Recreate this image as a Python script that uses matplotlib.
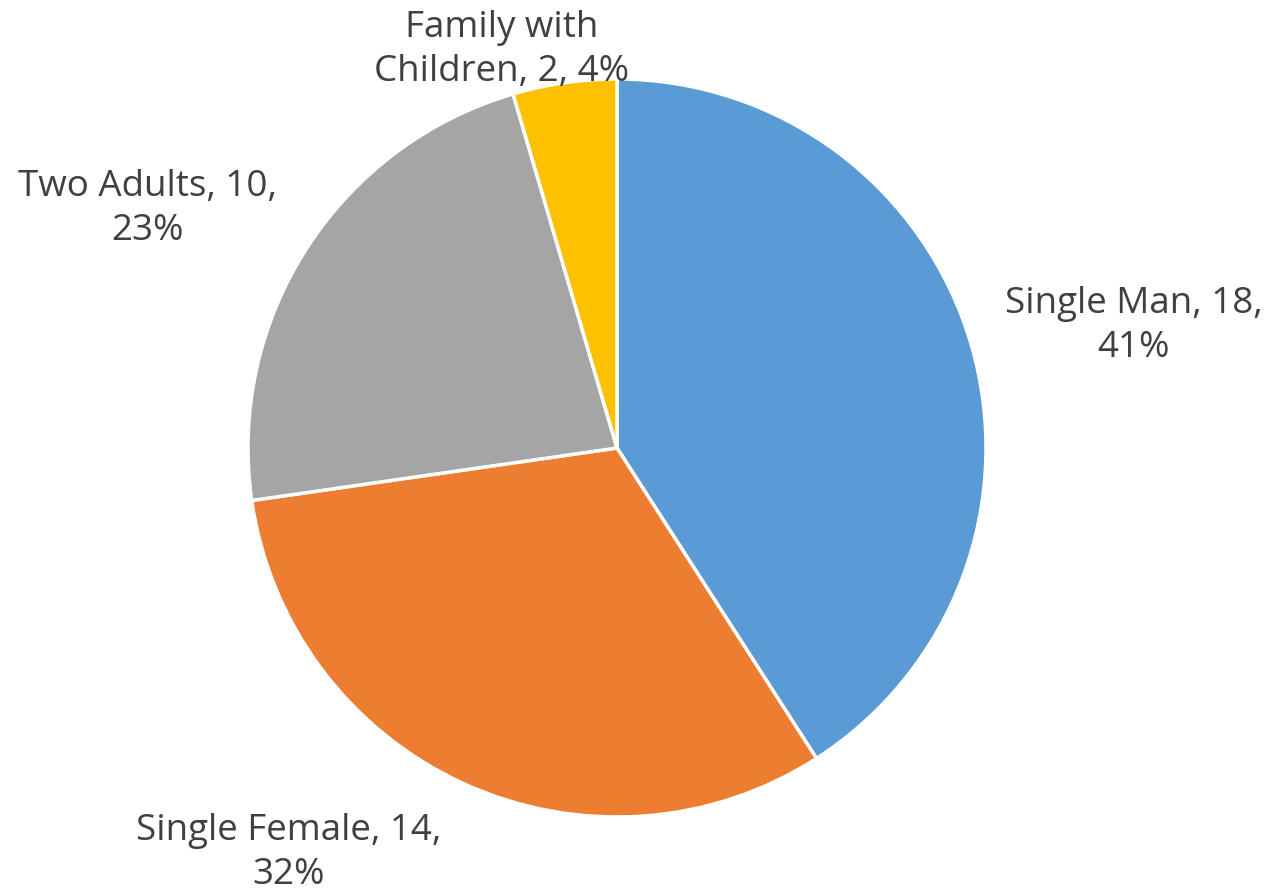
import matplotlib
matplotlib.use("Agg")
import matplotlib.pyplot as plt

categories = ["Single Man", "Single Female", "Two Adults", "Family with\nChildren"]
values = [18, 14, 10, 2]
percents = [41, 32, 23, 4]
colors = ["#5B9BD5", "#ED7D31", "#A5A5A5", "#FFC000"]

W, H = 1272, 895
fig = plt.figure(figsize=(W / 100, H / 100), dpi=100)
ax = fig.add_axes([0, 0, 1, 1])

cx, cy, r = 617, 449, 369
ax.pie(values, colors=colors, startangle=270, counterclock=True,
       center=(cx, cy), radius=r, frame=True,
       wedgeprops=dict(edgecolor="white", linewidth=2.5))
ax.set_xlim(0, W)
ax.set_ylim(H, 0)
ax.set_aspect("equal")
ax.axis("off")

label_pos = [(1134, 326), (289, 853), (147, 209), (502, 50)]
texts = [
    f"Single Man, {values[0]},\n{percents[0]}%",
    f"Single Female, {values[1]},\n{percents[1]}%",
    f"Two Adults, {values[2]},\n{percents[2]}%",
    f"Family with\nChildren, {values[3]}, {percents[3]}%",
]
for (x, y), t in zip(label_pos, texts):
    ax.text(x, y, t, ha="center", va="center", fontsize=26.5,
            family="Open Sans", color="#404040", linespacing=1.3)

fig.savefig("out.png", dpi=100)
